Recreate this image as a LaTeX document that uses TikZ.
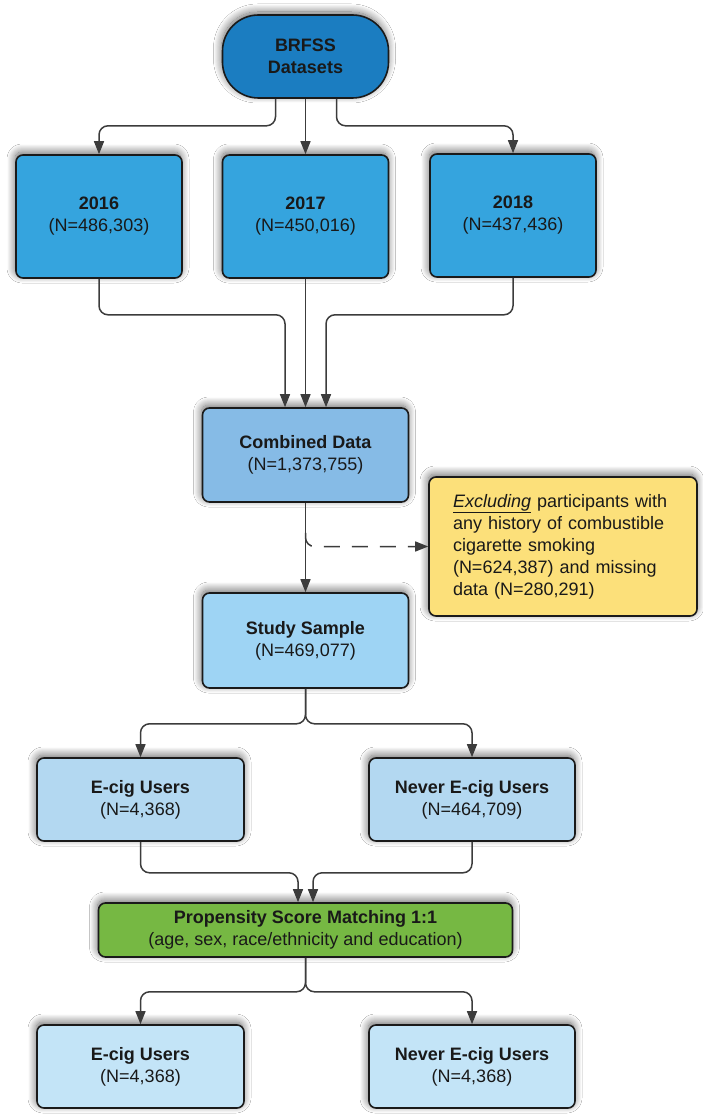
\documentclass[tikz,border=0pt]{standalone}
\usepackage{fontspec}
\setmainfont{Liberation Sans}
\usetikzlibrary{arrows.meta,shadows.blur}
\definecolor{cbrfss}{HTML}{1B7DC1}
\definecolor{cyear}{HTML}{35A4DE}
\definecolor{ccomb}{HTML}{86BBE6}
\definecolor{cstudy}{HTML}{9ED4F4}
\definecolor{cmid}{HTML}{B3D8F1}
\definecolor{cbot}{HTML}{C3E4F7}
\definecolor{cexcl}{HTML}{FCE07A}
\definecolor{cpsm}{HTML}{76B843}
\definecolor{cline}{HTML}{3C3C3C}
\definecolor{cborder}{HTML}{1A1A1A}
\tikzset{
  box/.style={draw=cborder, line width=1.6pt, rounded corners=7pt, align=center,
    inner sep=0pt, font=\fontsize{18}{22}\selectfont, text=black!90,
    blur shadow={shadow xshift=-1pt, shadow yshift=3pt, shadow blur radius=8pt, shadow blur steps=16, shadow opacity=60}},
  arr/.style={draw=cline, line width=1.5pt, rounded corners=9pt, -{Triangle[length=13pt,width=10pt]}},
  dasharr/.style={arr, dash pattern=on 16pt off 12pt}
}
\begin{document}
\begin{tikzpicture}[x=1pt,y=-1pt]
\fill[white] (0,0) rectangle (703,1115);
\useasboundingbox (0,0) rectangle (703,1115);

\node[box, fill=cbrfss, rounded corners=36pt, minimum width=166pt, minimum height=83pt] (brfss) at (305.5,56.5) {\textbf{BRFSS}\\\textbf{Datasets}};

\node[box, fill=cyear, minimum width=166pt, minimum height=123pt] (y2016) at (99,216.5) {\textbf{2016}\\(N=486,303)};
\node[box, fill=cyear, minimum width=166pt, minimum height=123pt] (y2017) at (305.5,216.5) {\textbf{2017}\\(N=450,016)};
\node[box, fill=cyear, minimum width=166pt, minimum height=123pt] (y2018) at (513,215.5) {\textbf{2018}\\(N=437,436)};

\node[box, fill=ccomb, minimum width=206pt, minimum height=94pt] (comb) at (305.5,455) {\textbf{Combined Data}\\(N=1,373,755)};

\node[box, fill=cexcl, minimum width=268pt, minimum height=139pt, align=left, text width=220pt] (excl) at (563,546.5)
  {\underline{\textit{Excluding}} participants with\\any history of combustible\\cigarette smoking\\(N=624,387) and missing\\data (N=280,291)};

\node[box, fill=cstudy, minimum width=206pt, minimum height=95pt] (study) at (305.5,640.5) {\textbf{Study Sample}\\(N=469,077)};

\node[box, fill=cmid, minimum width=207pt, minimum height=83pt] (ecig1) at (140.5,799.5) {\textbf{E-cig Users}\\(N=4,368)};
\node[box, fill=cmid, minimum width=206pt, minimum height=83pt] (never1) at (472,799.5) {\textbf{Never E-cig Users}\\(N=464,709)};

\node[box, fill=cpsm, minimum width=414pt, minimum height=54pt] (psm) at (305.5,930) {\textbf{Propensity Score Matching 1:1}\\(age, sex, race/ethnicity and education)};

\node[box, fill=cbot, minimum width=207pt, minimum height=83pt] (ecig2) at (140.5,1066.5) {\textbf{E-cig Users}\\(N=4,368)};
\node[box, fill=cbot, minimum width=206pt, minimum height=83pt] (never2) at (472,1066.5) {\textbf{Never E-cig Users}\\(N=4,368)};

% BRFSS to years
\draw[arr] ([xshift=-30pt]brfss.south) -- ++(0,27) -| (y2016.north);
\draw[arr] (brfss.south) -- (y2017.north);
\draw[arr] ([xshift=31pt]brfss.south) -- ++(0,27) -| (y2018.north);

% years to combined
\draw[arr] (y2016.south) -- ++(0,36) -| ([xshift=-20.5pt]comb.north);
\draw[arr] (y2017.south) -- (comb.north);
\draw[arr] (y2018.south) -- ++(0,37) -| ([xshift=20.5pt]comb.north);

% combined to study and exclusion
\draw[arr] (comb.south) -- (study.north);
\draw[dasharr] ([yshift=-30pt]comb.south) |- (excl.west);

% study to groups
\draw[arr] (study.south) -- ++(0,35) -| (ecig1.north);
\draw[arr] (study.south) -- ++(0,35) -| (never1.north);

% groups to PSM
\draw[arr] (ecig1.south) -- ++(0,31) -| ([xshift=-7.5pt]psm.north);
\draw[arr] (never1.south) -- ++(0,31) -| ([xshift=7.5pt]psm.north);

% PSM to matched groups
\draw[arr] (psm.south) -- ++(0,34) -| (ecig2.north);
\draw[arr] (psm.south) -- ++(0,34) -| (never2.north);
\end{tikzpicture}
\end{document}
